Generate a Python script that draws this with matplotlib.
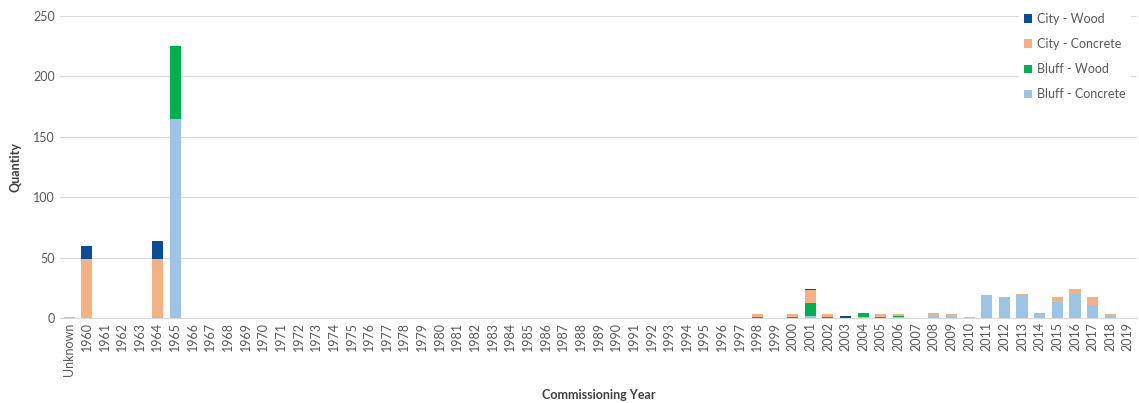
import matplotlib
matplotlib.use("Agg")
import matplotlib.pyplot as plt
import numpy as np

years = ["Unknown"] + [str(y) for y in range(1960, 2020)]

def series(d):
    return [d.get(y, 0) for y in years]

bluff_concrete = series({"1964": 1, "1965": 165, "2001": 2, "2004": 1, "2006": 1,
                         "2008": 2, "2009": 2, "2011": 19, "2012": 17, "2013": 19,
                         "2014": 4, "2015": 13, "2016": 20, "2017": 11, "2018": 2})
bluff_wood = series({"1965": 60, "1998": 1, "2000": 1, "2001": 10, "2002": 1,
                     "2004": 3, "2005": 1, "2006": 1})
city_concrete = series({"Unknown": 1, "1960": 49, "1964": 48, "1998": 2, "2000": 2,
                        "2001": 11, "2002": 2, "2005": 2, "2006": 1, "2008": 2,
                        "2009": 1, "2010": 1, "2013": 1, "2015": 4, "2016": 4,
                        "2017": 6, "2018": 1})
city_wood = series({"1960": 11, "1964": 15, "2001": 1, "2003": 2})

colors = {"City - Wood": "#0B4C96", "City - Concrete": "#F4B183",
          "Bluff - Wood": "#00B050", "Bluff - Concrete": "#9DC3E6"}

plt.rcParams['font.family'] = ['Lato', 'DejaVu Sans']
fig = plt.figure(figsize=(11.39, 4.03), dpi=100)
ax = fig.add_axes([0.053, 0.211, 0.945, 0.749])

x = np.arange(len(years))
w = 0.63
bc = np.array(bluff_concrete, float)
bw = np.array(bluff_wood, float)
cc = np.array(city_concrete, float)
cw = np.array(city_wood, float)
h_bc = ax.bar(x, bc, w, color=colors["Bluff - Concrete"], zorder=3)
h_bw = ax.bar(x, bw, w, bottom=bc, color=colors["Bluff - Wood"], zorder=3)
h_cc = ax.bar(x, cc, w, bottom=bc + bw, color=colors["City - Concrete"], zorder=3)
h_cw = ax.bar(x, cw, w, bottom=bc + bw + cc, color=colors["City - Wood"], zorder=3)

ax.set_xlim(-0.5, len(years) - 0.5)
ax.set_ylim(0, 250)
ax.set_yticks([0, 50, 100, 150, 200, 250])
ax.set_xticks(x)
ax.set_xticklabels(years, rotation=90)
ax.tick_params(axis='both', length=0, labelsize=9, colors="#595959", pad=4)
ax.tick_params(axis='x', pad=3)
ax.grid(axis='y', color="#D9D9D9", linewidth=0.9, zorder=0)
for s in ["top", "right", "left"]:
    ax.spines[s].set_visible(False)
ax.spines["bottom"].set_color("#D9D9D9")
ax.set_ylabel("Quantity", fontsize=9, fontweight="bold", color="#404040", labelpad=8)
ax.set_xlabel("Commissioning Year", fontsize=9, fontweight="bold", color="#404040", labelpad=10)

leg = ax.legend([h_cw, h_cc, h_bw, h_bc],
                ["City - Wood", "City - Concrete", "Bluff - Wood", "Bluff - Concrete"],
                loc="upper right", bbox_to_anchor=(0.997, 1.035), frameon=True,
                fontsize=9, labelspacing=1.05, handlelength=0.7, handleheight=0.7,
                handletextpad=0.4, borderaxespad=0.2)
leg.get_frame().set_edgecolor("none")
leg.get_frame().set_facecolor("white")
leg.get_frame().set_alpha(1)
for t in leg.get_texts():
    t.set_color("#595959")

fig.savefig("out.png", dpi=100)
